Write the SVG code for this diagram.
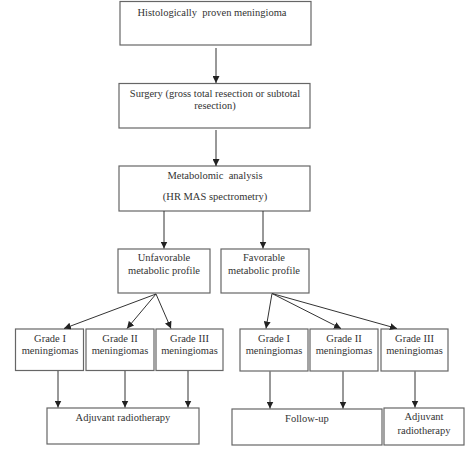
<svg xmlns="http://www.w3.org/2000/svg" width="473" height="459" viewBox="0 0 473 459">
<style>
rect{fill:#fff;stroke:#666;stroke-width:1.2}
text{font-family:"Liberation Serif","Times New Roman",serif;font-size:10.5px;fill:#333;text-anchor:middle}
.c line{stroke:#333;stroke-width:1;marker-end:url(#ah)}
</style>
<defs>
<marker id="ah" viewBox="0 0 10 10" refX="10" refY="5" markerWidth="7" markerHeight="7" markerUnits="userSpaceOnUse" orient="auto">
<path d="M0,0L10,5L0,10z" fill="#222"/>
</marker>
</defs>
<rect x="0" y="0" width="473" height="459" style="fill:#fff;stroke:none"/>
<g id="n1"><rect x="120" y="1.5" width="191" height="43.5"/><text x="212" y="15.5" xml:space="preserve">Histologically  proven meningioma</text></g>
<g id="n2"><rect x="119" y="83.5" width="191" height="44.5"/><text x="215" y="97">Surgery (gross total resection or subtotal</text><text x="215" y="109">resection)</text></g>
<g id="n3"><rect x="119" y="166" width="191" height="45"/><text x="215" y="179" xml:space="preserve">Metabolomic  analysis</text><text x="215" y="200">(HR MAS spectrometry)</text></g>
<g id="n4"><rect x="118" y="249" width="92" height="44"/><text x="164" y="261">Unfavorable</text><text x="164" y="273.5">metabolic profile</text></g>
<g id="n5"><rect x="221" y="249" width="88" height="44"/><text x="264" y="261">Favorable</text><text x="264" y="273.5">metabolic profile</text></g>
<g id="n6"><rect x="15.5" y="329" width="68" height="41.5"/><text x="50" y="342">Grade I</text><text x="50" y="353.5">meningiomas</text></g>
<g id="n7"><rect x="86" y="329" width="68" height="41.5"/><text x="120" y="342">Grade II</text><text x="120" y="353.5">meningiomas</text></g>
<g id="n8"><rect x="156" y="329" width="67" height="41.5"/><text x="189.5" y="342">Grade III</text><text x="189.5" y="353.5">meningiomas</text></g>
<g id="n9"><rect x="47" y="408" width="152" height="36"/><text x="123" y="421">Adjuvant radiotherapy</text></g>
<g id="n10"><rect x="240" y="329" width="68" height="42"/><text x="274" y="342">Grade I</text><text x="274" y="353.5">meningiomas</text></g>
<g id="n11"><rect x="310" y="329" width="68" height="42"/><text x="344" y="342">Grade II</text><text x="344" y="354">meningiomas</text></g>
<g id="n12"><rect x="381" y="329" width="67" height="42"/><text x="414.5" y="342">Grade III</text><text x="414.5" y="353.5">meningiomas</text></g>
<g id="n13"><rect x="232" y="409" width="150" height="36"/><text x="307" y="422">Follow-up</text></g>
<g id="n14"><rect x="384" y="408" width="80" height="37"/><text x="424" y="420">Adjuvant</text><text x="424" y="434">radiotherapy</text></g>
<g class="c" id="connectors">
<line x1="216" y1="48" x2="216" y2="83"/>
<line x1="216" y1="130" x2="216" y2="166"/>
<line x1="164" y1="211" x2="164" y2="248.5"/>
<line x1="263" y1="211" x2="263" y2="248.5"/>
<line x1="156" y1="294" x2="64" y2="328.5"/>
<line x1="156" y1="294" x2="127" y2="328.5"/>
<line x1="156" y1="294" x2="171" y2="328.5"/>
<line x1="272" y1="293.5" x2="266" y2="328.5"/>
<line x1="272" y1="293.5" x2="341" y2="328.5"/>
<line x1="272" y1="293.5" x2="397" y2="328.5"/>
<line x1="58" y1="371" x2="58" y2="407.5"/>
<line x1="125" y1="371" x2="125" y2="407.5"/>
<line x1="188" y1="371" x2="188" y2="407.5"/>
<line x1="270" y1="371.5" x2="270" y2="408.5"/>
<line x1="343" y1="371.5" x2="343" y2="408.5"/>
<line x1="415" y1="371.5" x2="415" y2="407.5"/>
</g>
</svg>
